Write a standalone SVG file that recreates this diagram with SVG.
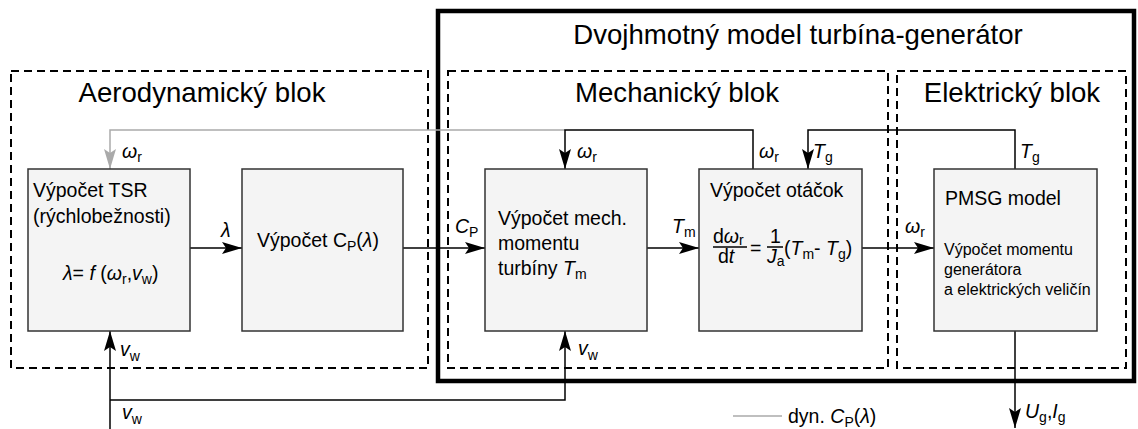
<svg xmlns="http://www.w3.org/2000/svg" width="1138" height="429" viewBox="0 0 1138 429">
<style>
text{font-family:"Liberation Sans",Arial,sans-serif;fill:#000}
.h{font-size:27.6px}
.t{font-size:19.5px}
.s{font-size:16px}
.i{font-style:italic}
.sub{font-size:14px;font-style:normal}
.box{fill:#f4f4f4;stroke:#333;stroke-width:1.5}
.dash{fill:none;stroke:#000;stroke-width:2;stroke-dasharray:8 5}
.frame{fill:none;stroke:#000;stroke-width:4.5}
.w{fill:none;stroke:#000;stroke-width:1.5}
.g{fill:none;stroke:#aaa;stroke-width:1.5}
</style>
<defs>
<marker id="ah" viewBox="0 0 20 12" markerWidth="20" markerHeight="12" refX="20" refY="6" orient="auto" markerUnits="userSpaceOnUse"><path d="M0,0 L20,6 L0,12 L4,6 z" fill="#000"/></marker>
<marker id="ahg" viewBox="0 0 20 12" markerWidth="20" markerHeight="12" refX="20" refY="6" orient="auto" markerUnits="userSpaceOnUse"><path d="M0,0 L20,6 L0,12 L4,6 z" fill="#aaa"/></marker>
</defs>
<rect width="1138" height="429" fill="#fff"/>

<g id="frame-turbine-generator">
<rect class="frame" x="438" y="11" width="696" height="370"/>
<text class="h" x="798" y="44" text-anchor="middle">Dvojhmotný model turbína-generátor</text>
</g>
<g id="group-aero">
<rect class="dash" x="11" y="71" width="417" height="297"/>
<text class="h" x="202" y="102" text-anchor="middle">Aerodynamický blok</text>
</g>
<g id="group-mech">
<rect class="dash" x="448" y="71" width="440" height="297"/>
<text class="h" x="677" y="102" text-anchor="middle">Mechanický blok</text>
</g>
<g id="group-elec">
<rect class="dash" x="897" y="71" width="229" height="297"/>
<text class="h" x="1012" y="102" text-anchor="middle">Elektrický blok</text>
</g>

<g id="connectors">
<path class="g" d="M565,130 H110 V169" marker-end="url(#ahg)"/>
<path class="w" d="M753,169 V130 H565 V169" marker-end="url(#ah)"/>
<path class="w" d="M1015,169 V130 H808 V169" marker-end="url(#ah)"/>
<path class="w" d="M190,248 H242" marker-end="url(#ah)"/>
<path class="w" d="M403,248 H485" marker-end="url(#ah)"/>
<path class="w" d="M647,248 H699" marker-end="url(#ah)"/>
<path class="w" d="M862,248 H934" marker-end="url(#ah)"/>
<path class="w" d="M1015,331 V428" marker-end="url(#ah)"/>
<path class="w" d="M110,429 V331" marker-end="url(#ah)"/>
<path class="w" d="M110,400 H565 V331" marker-end="url(#ah)"/>
<path class="g" d="M733,416 H782"/>
<text class="t" x="122" y="158"><tspan class="i">ω</tspan><tspan class="sub" dy="4">r</tspan></text>
<text class="t" x="577" y="158"><tspan class="i">ω</tspan><tspan class="sub" dy="4">r</tspan></text>
<text class="t" x="759" y="158"><tspan class="i">ω</tspan><tspan class="sub" dy="4">r</tspan></text>
<text class="t" x="813" y="158"><tspan class="i">T</tspan><tspan class="sub" dy="4">g</tspan></text>
<text class="t" x="1020" y="158"><tspan class="i">T</tspan><tspan class="sub" dy="4">g</tspan></text>
<text class="t i" x="221" y="237">λ</text>
<text class="t" x="455" y="233"><tspan class="i">C</tspan><tspan class="sub i" dy="4">P</tspan></text>
<text class="t" x="672" y="233"><tspan class="i">T</tspan><tspan class="sub" dy="4">m</tspan></text>
<text class="t" x="905" y="233"><tspan class="i">ω</tspan><tspan class="sub" dy="4">r</tspan></text>
<text class="t" x="120" y="356"><tspan class="i">v</tspan><tspan class="sub" dy="5">w</tspan></text>
<text class="t" x="578" y="355"><tspan class="i">v</tspan><tspan class="sub" dy="5">w</tspan></text>
<text class="t" x="122" y="419"><tspan class="i">v</tspan><tspan class="sub" dy="5">w</tspan></text>
<text class="t" x="1025" y="418"><tspan class="i">U</tspan><tspan class="sub" dy="4">g</tspan><tspan dy="-4">,</tspan><tspan class="i">I</tspan><tspan class="sub" dy="4">g</tspan></text>
<text class="t" x="788" y="423">dyn. <tspan class="i">C</tspan><tspan class="sub i" dy="4">P</tspan><tspan dy="-4">(</tspan><tspan class="i">λ</tspan>)</text>
</g>

<g id="node-tsr">
<rect class="box" x="28" y="169" width="162" height="162"/>
<text class="t" x="33" y="197">Výpočet TSR</text>
<text class="t" x="33" y="223">(rýchlobežnosti)</text>
<text class="t" x="63" y="280"><tspan class="i">λ</tspan>= <tspan class="i">f</tspan> (<tspan class="i">ω</tspan><tspan class="sub" dy="4">r</tspan><tspan dy="-4">,</tspan><tspan class="i">v</tspan><tspan class="sub" dy="4">w</tspan><tspan dy="-4">)</tspan></text>
</g>
<g id="node-cp">
<rect class="box" x="242" y="169" width="161" height="162"/>
<text class="t" x="257" y="247">Výpočet C<tspan class="sub i" dy="4">P</tspan><tspan dy="-4">(</tspan><tspan class="i">λ</tspan>)</text>
</g>
<g id="node-mech">
<rect class="box" x="485" y="169" width="162" height="162"/>
<text class="t" x="498" y="225">Výpočet mech.</text>
<text class="t" x="498" y="250">momentu</text>
<text class="t" x="498" y="275">turbíny <tspan class="i">T</tspan><tspan class="sub" dy="4">m</tspan></text>
</g>
<g id="node-speed">
<rect class="box" x="699" y="169" width="163" height="162"/>
<text class="t" x="710" y="197">Výpočet otáčok</text>
<text class="t" x="713" y="243">d<tspan class="i">ω</tspan><tspan class="sub" dy="2">r</tspan></text>
<line class="w" x1="713" y1="247" x2="747" y2="247" stroke-width="1"/>
<text class="t" x="718" y="263">d<tspan class="i">t</tspan></text>
<text class="t" x="750" y="255">=</text>
<text class="t" x="770" y="243">1</text>
<line class="w" x1="767" y1="247" x2="783" y2="247" stroke-width="1"/>
<text class="t" x="767" y="263"><tspan class="i">J</tspan><tspan class="sub" dy="3">a</tspan></text>
<text class="t" x="784" y="255">(<tspan class="i">T</tspan><tspan class="sub" dy="4">m</tspan><tspan dy="-4">- </tspan><tspan class="i">T</tspan><tspan class="sub" dy="4">g</tspan><tspan dy="-4">)</tspan></text>
</g>
<g id="node-pmsg">
<rect class="box" x="934" y="169" width="163" height="162"/>
<text class="t" x="945" y="205">PMSG model</text>
<text class="s" x="944" y="255">Výpočet momentu</text>
<text class="s" x="944" y="275">generátora</text>
<text class="s" x="944" y="295">a elektrických veličín</text>
</g>
</svg>
